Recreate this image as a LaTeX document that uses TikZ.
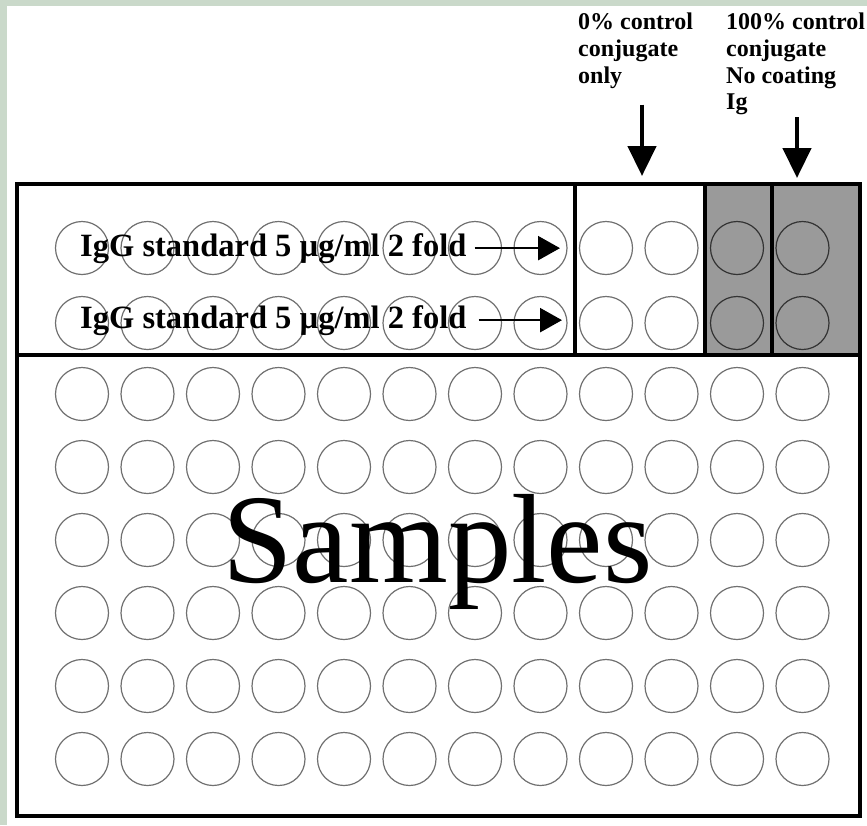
\documentclass[tikz,border=0pt]{standalone}
\usepackage{fontspec}
\setmainfont{Liberation Serif}
\usetikzlibrary{arrows.meta}
\definecolor{framecolor}{HTML}{CAD9CA}
\definecolor{shadegray}{HTML}{9A9A9A}
\definecolor{welledge}{HTML}{707070}

\begin{document}
\begin{tikzpicture}[
    x=1pt, y=-1pt,
    well/.style={circle, draw=welledge, line width=1.2pt, minimum size=53pt, inner sep=0pt},
    darkwell/.style={well, draw=black!80},
    plateline/.style={line width=3.5pt, black},
    lbl/.style={font=\fontsize{24}{26.7}\selectfont\bfseries, align=left, inner sep=0pt, anchor=north west},
    stdtext/.style={font=\fontsize{32.5}{39}\selectfont\bfseries, inner sep=0pt, anchor=base west},
    harrow/.style={-{Triangle[length=22pt,width=24pt]}, line width=2.5pt},
    varrow/.style={-{Triangle[length=30pt,width=28pt]}, line width=4.5pt}
]

% Page and frame
\useasboundingbox (0,0) rectangle (867,825);
\fill[white] (0,0) rectangle (867,825);
\fill[framecolor] (0,0) rectangle (867,6);
\fill[framecolor] (0,0) rectangle (7,825);

% Shaded control columns
\fill[shadegray] (705,184) rectangle (860,355);

% Sample wells (6 rows x 12)
\foreach \c in {1,...,12} {
  \foreach \r in {1,...,6}
    \node[well] (s\r-\c) at ({82+65.5*(\c-1)},{394+73*(\r-1)}) {};
}

% Standard and control wells (top two rows)
\foreach \c in {1,...,10} {
  \node[well] (a-\c) at ({82+65.5*(\c-1)},248) {};
  \node[well] (b-\c) at ({82+65.5*(\c-1)},323) {};
}
\foreach \c in {11,12} {
  \node[darkwell] (a-\c) at ({82+65.5*(\c-1)},248) {};
  \node[darkwell] (b-\c) at ({82+65.5*(\c-1)},323) {};
}

% Plate outline and dividers
\draw[plateline] (17,184) rectangle (860,816);
\draw[plateline] (17,355) -- (860,355);
\draw[plateline] (575,184) -- (575,355);
\draw[plateline] (705,184) -- (705,355);
\draw[plateline] (772,184) -- (772,355);

% Standard rows
\node[stdtext] (std1) at (80,256) {IgG standard 5 µg/ml 2 fold};
\node[stdtext] (std2) at (80,328) {IgG standard 5 µg/ml 2 fold};
\coordinate (std1tip) at (560,249);
\coordinate (std2tip) at (562,321);
\draw[harrow] ([xshift=8pt]std1.east) -- (std1.east -| std1tip);
\draw[harrow] ([xshift=12pt]std2.east) -- (std2.east -| std2tip);

% Control labels
\node[lbl] (ctl0) at (578,13) {0\% control\\conjugate\\only};
\node[lbl] (ctl100) at (726,13) {100\% control\\conjugate\\No coating\\Ig};
\coordinate (ctl0tip) at (642,176);
\coordinate (ctl100tip) at (797,178);
\draw[varrow] ([yshift=-16pt]ctl0.south -| ctl0tip) -- (ctl0tip);
\draw[varrow] ([yshift=-2pt]ctl100.south -| ctl100tip) -- (ctl100tip);

% Samples
\node[font=\fontsize{127}{127}\selectfont, anchor=base west, inner sep=0pt] (samples) at (222,582) {Samples};

\end{tikzpicture}
\end{document}
